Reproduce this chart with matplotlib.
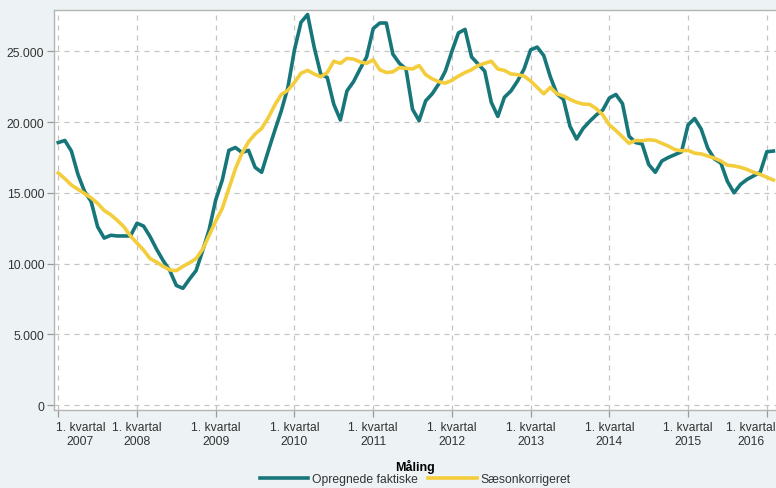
import numpy as np
import matplotlib
matplotlib.use("Agg")
import matplotlib.pyplot as plt
from matplotlib.ticker import FuncFormatter
import matplotlib.transforms as mtransforms

plt.rcParams["font.family"] = ["Liberation Sans", "DejaVu Sans"]

# Monthly values, Jan 2007 - Feb 2016 (thousands)
faktiske = [18.55, 18.7, 17.95, 16.3, 15.1, 14.4, 12.6, 11.8, 12.0, 11.95, 11.95, 11.95,
            12.85, 12.65, 11.9, 11.0, 10.2, 9.5, 8.45, 8.25, 8.9, 9.5, 10.9, 12.4,
            14.5, 15.9, 18.0, 18.2, 17.85, 18.0, 16.8, 16.45, 17.95, 19.4, 20.8, 22.45,
            25.1, 27.05, 27.6, 25.3, 23.4, 23.15, 21.25, 20.15, 22.2, 22.85, 23.75, 24.6,
            26.6, 27.0, 27.0, 24.8, 24.15, 23.75, 20.9, 20.1, 21.5, 22.0, 22.7, 23.6,
            25.0, 26.3, 26.55, 24.6, 24.1, 23.6, 21.4, 20.4, 21.75, 22.2, 22.9, 23.75,
            25.1, 25.3, 24.7, 23.2, 22.0, 21.6, 19.7, 18.8, 19.55, 20.05, 20.5, 20.85,
            21.7, 21.95, 21.3, 19.0, 18.55, 18.45, 17.0, 16.45, 17.25, 17.5, 17.7, 17.9,
            19.8, 20.25, 19.5, 18.15, 17.4, 17.1, 15.8, 15.0, 15.6, 15.95, 16.2, 16.45,
            17.9, 17.95]
saeson = [16.4, 16.0, 15.55, 15.25, 14.95, 14.65, 14.25, 13.75, 13.45, 13.05, 12.6, 11.95,
          11.45, 10.95, 10.35, 10.1, 9.8, 9.55, 9.5, 9.8, 10.05, 10.35, 11.0, 12.0,
          13.0, 13.9, 15.3, 16.7, 17.8, 18.6, 19.15, 19.55, 20.3, 21.2, 21.95, 22.25,
          22.8, 23.45, 23.65, 23.4, 23.2, 23.5, 24.3, 24.15, 24.5, 24.45, 24.25, 24.15,
          24.4, 23.7, 23.5, 23.55, 23.85, 23.8, 23.75, 24.0, 23.35, 23.05, 22.85, 22.75,
          22.95, 23.25, 23.5, 23.7, 24.0, 24.15, 24.3, 23.75, 23.65, 23.4, 23.35, 23.25,
          22.9, 22.45, 22.0, 22.45, 22.0, 21.85, 21.6, 21.4, 21.27, 21.25, 20.95, 20.5,
          19.8, 19.4, 18.95, 18.5, 18.7, 18.68, 18.75, 18.7, 18.5, 18.3, 18.05, 17.97,
          18.0, 17.8, 17.75, 17.6, 17.45, 17.25, 16.95, 16.9, 16.8, 16.65, 16.45, 16.3,
          16.1, 15.9]
years = [2007, 2008, 2009, 2010, 2011, 2012, 2013, 2014, 2015, 2016]

faktiske = np.array(faktiske) * 1000
saeson = np.array(saeson) * 1000
months = np.arange(len(faktiske))

fig = plt.figure(figsize=(7.76, 4.89), dpi=100, facecolor="#edf3f4")
ax = fig.add_axes([0.0696, 0.1595, 0.9304, 0.818])
ax.set_facecolor("white")

ax.plot(months, faktiske, color="#17767a", lw=2.6, label="Opregnede faktiske", zorder=3)
ax.plot(months, saeson, color="#f4cd3c", lw=2.6, label="Sæsonkorrigeret", zorder=4)

ax.set_xlim(-0.65, 109.4)
ax.set_ylim(-350, 27920)

ax.set_yticks(np.arange(0, 25001, 5000))
ax.yaxis.set_major_formatter(FuncFormatter(lambda v, p: f"{int(v):,}".replace(",", ".")))
ax.set_xticks([(y - 2007) * 12 for y in years])
ax.set_xticklabels([f"1. kvartal\n{y}" for y in years], multialignment="center")

ax.grid(True, color="#c4c4c4", linestyle=(0, (4, 4)), linewidth=0.9)
ax.tick_params(axis="both", colors="#9a9a9a", labelcolor="#333333", labelsize=8.7,
               length=5, width=0.9)
ax.tick_params(axis="x", pad=3)
ax.tick_params(axis="y", pad=2)

for side in ["left", "bottom", "top"]:
    ax.spines[side].set_color("#b4b4b4")
    ax.spines[side].set_linewidth(1.0)
ax.spines["right"].set_visible(False)

# edge labels are pushed inward like in the original
labels = ax.get_xticklabels()
labels[0].set_transform(labels[0].get_transform() +
                        mtransforms.ScaledTranslation(0.22, 0, fig.dpi_scale_trans))
labels[-1].set_transform(labels[-1].get_transform() +
                         mtransforms.ScaledTranslation(-0.16, 0, fig.dpi_scale_trans))

leg = fig.legend(loc="center", bbox_to_anchor=(0.535, 0.032), ncol=2, frameon=False,
                 title="Måling", title_fontproperties={"weight": "bold", "size": 9},
                 fontsize=8.7, handlelength=4.0, handletextpad=0.3, columnspacing=0.9,
                 borderpad=0, labelspacing=0)
for t in leg.get_texts():
    t.set_color("#333333")

fig.savefig("out.png", dpi=100, facecolor=fig.get_facecolor())
